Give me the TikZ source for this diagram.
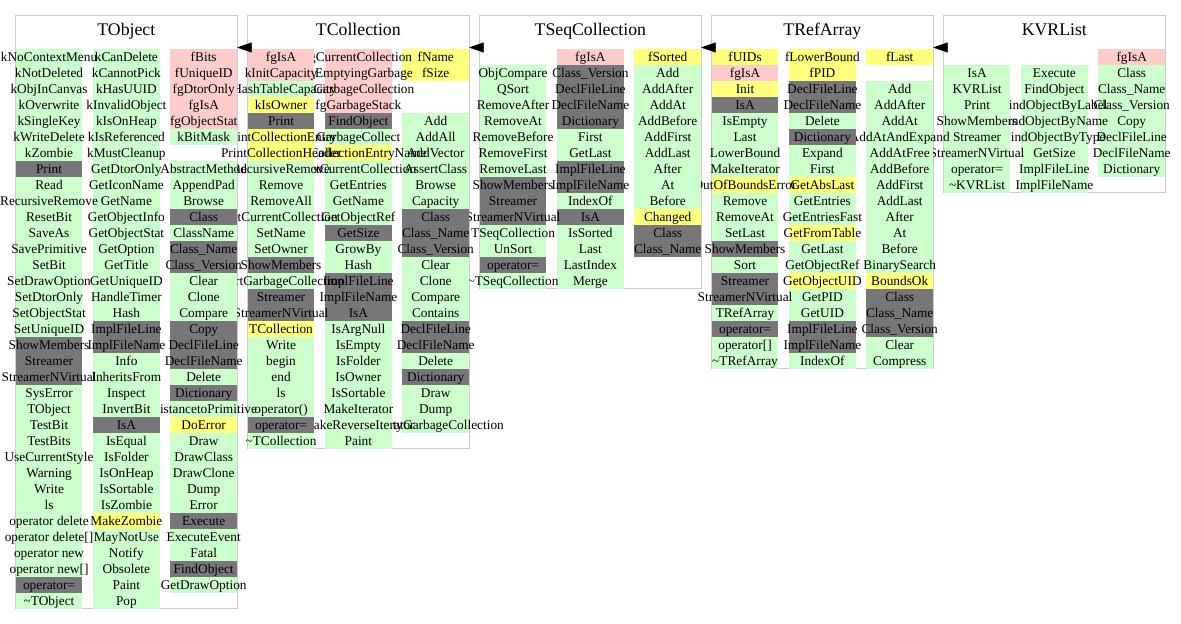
\documentclass[tikz,border=0pt]{standalone}
\usepackage{fontspec}
\setmainfont{Liberation Serif}
\usetikzlibrary{arrows.meta,calc}

% member kinds: g public, p private, y protected, d inherited
\definecolor{kind-g}{HTML}{CCFFCC}
\definecolor{kind-p}{HTML}{FFCCCC}
\definecolor{kind-y}{HTML}{FFFF80}
\definecolor{kind-d}{HTML}{777777}
\definecolor{framegray}{HTML}{CCCCCC}

\tikzset{
  x=0.75pt, y=-0.75pt,
  member/.style={rectangle, inner sep=0pt, outer sep=0pt,
    minimum width=50pt, minimum height=11.5pt,
    text height=9.3pt, text depth=2.2pt,
    font=\fontsize{10}{12}\selectfont},
  classframe/.style={rectangle, draw=framegray, line width=0.75pt,
    inner sep=0pt, outer sep=0pt, minimum width=166pt, anchor=north west},
  classtitle/.style={anchor=base, inner sep=0pt, font=\fontsize{13.3}{16}\selectfont},
  inherit/.style={-{Triangle[length=11pt,width=7.5pt]}, line width=0.3pt, black}
}

% one column of members: #1 left edge, #2 name prefix, #3 text/kind list
\newcommand\membercolumn[3]{%
  \foreach \txt/\kind [count=\r from 0] in {#3} {%
    \if\kind e\relax\else
      \node[member, fill=kind-\kind] (#2-\r) at ({#1+33.35}, {57+16*\r}) {\makebox[0pt]{\txt}};
    \fi
  }%
}

\begin{document}
\begin{tikzpicture}
\useasboundingbox (0,0) rectangle (1181,624);

% class frames and titles
\node[classframe, minimum height=444.5pt] (tobject) at (15.7,16) {};
\node[classframe, minimum height=324.5pt] (tcollection) at (247.7,16) {};
\node[classframe, minimum height=204.5pt] (tseqcollection) at (479.7,16) {};
\node[classframe, minimum height=264.5pt] (trefarray) at (711.7,16) {};
\node[classframe, minimum height=132.5pt] (kvrlist) at (943.7,16) {};

\node[classtitle] (tobject-title) at (126.35,36) {TObject};
\node[classtitle] (tcollection-title) at (358.35,36) {TCollection};
\node[classtitle] (tseqcollection-title) at (590.35,36) {TSeqCollection};
\node[classtitle] (trefarray-title) at (822.35,36) {TRefArray};
\node[classtitle] (kvrlist-title) at (1054.35,36) {KVRList};

% KVRList
\membercolumn{1098.35}{kvr-c3}{fgIsA/p, Class/g, Class\_Name/g, Class\_Version/g, Copy/g, DeclFileLine/g, DeclFileName/g, Dictionary/g}
\membercolumn{1021.05}{kvr-c2}{-/e, Execute/g, FindObject/g, FindObjectByLabel/g, FindObjectByName/g, FindObjectByType/g, GetSize/g, ImplFileLine/g, ImplFileName/g}
\membercolumn{943.7}{kvr-c1}{-/e, IsA/g, KVRList/g, Print/g, ShowMembers/g, Streamer/g, StreamerNVirtual/g, operator=/g, \textasciitilde KVRList/g}

% TRefArray
\membercolumn{866.35}{tra-c3}{fLast/y, -/e, Add/g, AddAfter/g, AddAt/g, AddAtAndExpand/g, AddAtFree/g, AddBefore/g, AddFirst/g, AddLast/g, After/g, At/g, Before/g, BinarySearch/g, BoundsOk/y, Class/d, Class\_Name/d, Class\_Version/d, Clear/g, Compress/g}
\membercolumn{789.05}{tra-c2}{fLowerBound/y, fPID/y, DeclFileLine/d, DeclFileName/d, Delete/g, Dictionary/d, Expand/g, First/g, GetAbsLast/y, GetEntries/g, GetEntriesFast/g, GetFromTable/y, GetLast/g, GetObjectRef/g, GetObjectUID/y, GetPID/g, GetUID/g, ImplFileLine/d, ImplFileName/d, IndexOf/g}
\membercolumn{711.7}{tra-c1}{fUIDs/y, fgIsA/p, Init/y, IsA/d, IsEmpty/g, Last/g, LowerBound/g, MakeIterator/g, OutOfBoundsError/y, Remove/g, RemoveAt/g, SetLast/g, ShowMembers/d, Sort/g, Streamer/d, StreamerNVirtual/d, TRefArray/g, operator=/d, {operator[]}/g, \textasciitilde TRefArray/g}

% TSeqCollection
\membercolumn{634.35}{tsc-c3}{fSorted/y, Add/g, AddAfter/g, AddAt/g, AddBefore/g, AddFirst/g, AddLast/g, After/g, At/g, Before/g, Changed/y, Class/d, Class\_Name/d}
\membercolumn{557.05}{tsc-c2}{fgIsA/p, Class\_Version/d, DeclFileLine/d, DeclFileName/d, Dictionary/d, First/g, GetLast/g, ImplFileLine/d, ImplFileName/d, IndexOf/g, IsA/d, IsSorted/g, Last/g, LastIndex/g, Merge/g}
\membercolumn{479.7}{tsc-c1}{-/e, ObjCompare/g, QSort/g, RemoveAfter/g, RemoveAt/g, RemoveBefore/g, RemoveFirst/g, RemoveLast/g, ShowMembers/d, Streamer/d, StreamerNVirtual/d, TSeqCollection/g, UnSort/g, operator=/d, \textasciitilde TSeqCollection/g}

% TCollection
\membercolumn{402.35}{tco-c3}{fName/y, fSize/y, -/e, -/e, Add/g, AddAll/g, AddVector/g, AssertClass/g, Browse/g, Capacity/g, Class/d, Class\_Name/d, Class\_Version/d, Clear/g, Clone/g, Compare/g, Contains/g, DeclFileLine/d, DeclFileName/d, Delete/g, Dictionary/d, Draw/g, Dump/g, EmptyGarbageCollection/g}
\membercolumn{325.05}{tco-c2}{fgCurrentCollection/p, fgEmptyingGarbage/p, fgGarbageCollection/p, fgGarbageStack/p, FindObject/d, GarbageCollect/g, GetCollectionEntryName/y, GetCurrentCollection/g, GetEntries/g, GetName/g, GetObjectRef/g, GetSize/d, GrowBy/g, Hash/g, ImplFileLine/d, ImplFileName/d, IsA/d, IsArgNull/g, IsEmpty/g, IsFolder/g, IsOwner/g, IsSortable/g, MakeIterator/g, MakeReverseIterator/g, Paint/g}
\membercolumn{247.7}{tco-c1}{fgIsA/p, kInitCapacity/p, kHashTableCapacity/g, kIsOwner/y, Print/d, PrintCollectionEntry/y, PrintCollectionHeader/y, RecursiveRemove/g, Remove/g, RemoveAll/g, SetCurrentCollection/g, SetName/g, SetOwner/g, ShowMembers/d, StartGarbageCollection/g, Streamer/d, StreamerNVirtual/d, TCollection/y, Write/g, begin/g, end/g, ls/g, operator()/g, operator=/d, \textasciitilde TCollection/g}

% TObject
\membercolumn{170.35}{tob-c3}{fBits/p, fUniqueID/p, fgDtorOnly/p, fgIsA/p, fgObjectStat/p, kBitMask/g, -/e, AbstractMethod/g, AppendPad/g, Browse/g, Class/d, ClassName/g, Class\_Name/d, Class\_Version/d, Clear/g, Clone/g, Compare/g, Copy/d, DeclFileLine/d, DeclFileName/d, Delete/g, Dictionary/d, DistancetoPrimitive/g, DoError/y, Draw/g, DrawClass/g, DrawClone/g, Dump/g, Error/g, Execute/d, ExecuteEvent/g, Fatal/g, FindObject/d, GetDrawOption/g}
\membercolumn{93.05}{tob-c2}{kCanDelete/g, kCannotPick/g, kHasUUID/g, kInvalidObject/g, kIsOnHeap/g, kIsReferenced/g, kMustCleanup/g, GetDtorOnly/g, GetIconName/g, GetName/g, GetObjectInfo/g, GetObjectStat/g, GetOption/g, GetTitle/g, GetUniqueID/g, HandleTimer/g, Hash/g, ImplFileLine/d, ImplFileName/d, Info/g, InheritsFrom/g, Inspect/g, InvertBit/g, IsA/d, IsEqual/g, IsFolder/g, IsOnHeap/g, IsSortable/g, IsZombie/g, MakeZombie/y, MayNotUse/g, Notify/g, Obsolete/g, Paint/g, Pop/g}
\membercolumn{15.7}{tob-c1}{kNoContextMenu/g, kNotDeleted/g, kObjInCanvas/g, kOverwrite/g, kSingleKey/g, kWriteDelete/g, kZombie/g, Print/d, Read/g, RecursiveRemove/g, ResetBit/g, SaveAs/g, SavePrimitive/g, SetBit/g, SetDrawOption/g, SetDtorOnly/g, SetObjectStat/g, SetUniqueID/g, ShowMembers/d, Streamer/d, StreamerNVirtual/d, SysError/g, TObject/g, TestBit/g, TestBits/g, UseCurrentStyle/g, Warning/g, Write/g, ls/g, operator delete/g, {operator delete[]}/g, operator new/g, {operator new[]}/g, operator=/d, \textasciitilde TObject/g}

% inheritance arrows
\draw[inherit] ($(kvrlist.north west)+(3.5,31.5)$) -- ($(trefarray.north east)+(0,31.5)$);
\draw[inherit] ($(trefarray.north west)+(3.5,31.5)$) -- ($(tseqcollection.north east)+(0,31.5)$);
\draw[inherit] ($(tseqcollection.north west)+(3.5,31.5)$) -- ($(tcollection.north east)+(0,31.5)$);
\draw[inherit] ($(tcollection.north west)+(3.5,31.5)$) -- ($(tobject.north east)+(0,31.5)$);
\end{tikzpicture}
\end{document}
